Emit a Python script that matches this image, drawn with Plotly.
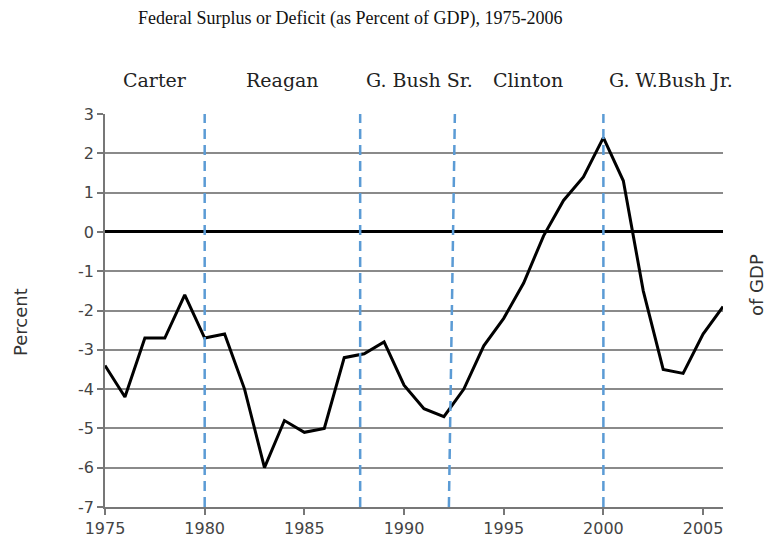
import plotly.graph_objects as go

years = list(range(1975, 2007))
deficit = [-3.4, -4.2, -2.7, -2.7, -1.6, -2.7, -2.6, -4.0, -6.0, -4.8,
           -5.1, -5.0, -3.2, -3.1, -2.8, -3.9, -4.5, -4.7, -4.0, -2.9,
           -2.2, -1.3, -0.1, 0.8, 1.4, 2.4, 1.3, -1.5, -3.5, -3.6,
           -2.6, -1.9]

presidents = ["Carter", "Reagan", "G. Bush Sr.", "Clinton", "G. W.Bush Jr."]
president_label_x = [1977.5, 1983.9, 1990.8, 1996.2, 2003.4]
term_breaks_bottom = [1980.0, 1987.8, 1992.25, 2000.0]
term_breaks_top = [1980.0, 1987.8, 1992.55, 2000.0]

x_ticks = [1975, 1980, 1985, 1990, 1995, 2000, 2005]
y_ticks = list(range(-7, 4))
y_tick_text = [str(v) for v in y_ticks]

# page body has an 8px margin; all pixel targets below are in figure coords
W, H = 765, 538
L, R, T, B = 97, 50, 106, 39
pw, ph = W - L - R, H - T - B


def px2paper(x, y):
    return (x - L) / pw, (H - B - y) / ph


fig = go.Figure()
fig.add_trace(go.Scatter(x=years, y=deficit, mode="lines",
                         line=dict(color="black", width=3), showlegend=False,
                         hoverinfo="skip"))

for xb, xt in zip(term_breaks_bottom, term_breaks_top):
    fig.add_shape(type="line", xref="x", yref="y", x0=xb, x1=xt, y0=-7, y1=3,
                  line=dict(color="#5b9bd5", width=2.5, dash="10px,6px"), layer="above")

lab_y = px2paper(0, 72)[1]
for name, px in zip(presidents, president_label_x):
    fig.add_annotation(x=px, xref="x", y=lab_y, yref="paper", text=name, showarrow=False,
                       font=dict(family="DejaVu Serif", size=19, color="#222"),
                       xanchor="center", yanchor="middle")

tx, ty = px2paper(341.5, 10)
fig.add_annotation(text="Federal Surplus or Deficit (as Percent of GDP), 1975-2006",
                   xref="paper", yref="paper", x=tx, y=ty, showarrow=False,
                   xanchor="center", yanchor="middle",
                   font=dict(family="Liberation Serif", size=18, color="#111"))
px_, py_ = px2paper(12, 314)
fig.add_annotation(text="Percent", xref="paper", yref="paper", x=px_, y=py_,
                   showarrow=False, textangle=-90, xanchor="center", yanchor="middle",
                   font=dict(family="DejaVu Sans", size=18, color="#333"))
gx, gy = px2paper(748, 277)
fig.add_annotation(text="of GDP", xref="paper", yref="paper", x=gx, y=gy,
                   showarrow=False, textangle=-90, xanchor="center", yanchor="middle",
                   font=dict(family="DejaVu Sans", size=18, color="#333"))

fig.update_layout(
    width=W, height=H,
    margin=dict(l=L, r=R, t=T, b=B, pad=0),
    plot_bgcolor="white", paper_bgcolor="white",
    xaxis=dict(range=[1975, 2006], tickvals=x_ticks, ticks="outside", ticklen=6,
               tickcolor="#777", tickwidth=1.5, showgrid=False, showline=True,
               linecolor="#777", linewidth=1.5, zeroline=False, automargin=False,
               tickfont=dict(family="DejaVu Sans", size=16, color="#444")),
    yaxis=dict(range=[-7, 3], tickvals=y_ticks, ticktext=y_tick_text,
               ticks="outside", ticklen=6, automargin=False,
               tickcolor="#777", tickwidth=1.5, showgrid=True, gridcolor="#8a8a8a",
               gridwidth=1.5, showline=True, linecolor="#777", linewidth=1.5,
               zeroline=True, zerolinecolor="black", zerolinewidth=2.5,
               tickfont=dict(family="DejaVu Sans", size=16, color="#444")),
)

fig.write_html("out.html")
